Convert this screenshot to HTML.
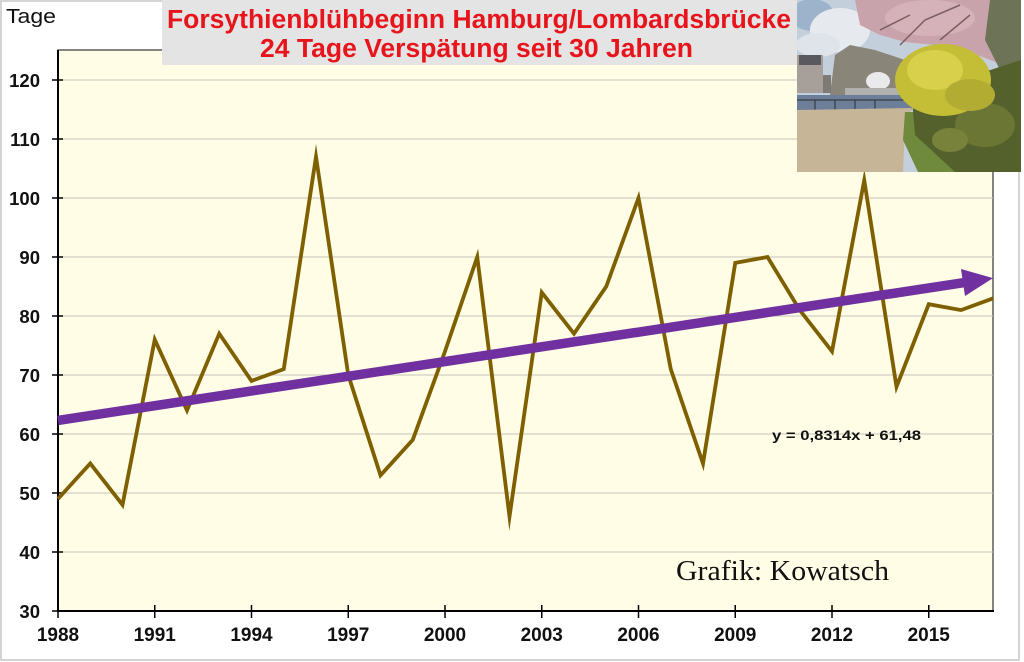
<!DOCTYPE html>
<html>
<head>
<meta charset="utf-8">
<style>
html,body{margin:0;padding:0;background:#fff;}
svg{display:block;}
</style>
</head>
<body>
<svg width="1024" height="662" viewBox="0 0 1024 662" xmlns="http://www.w3.org/2000/svg">
  <rect x="0" y="0" width="1024" height="662" fill="#ffffff"/>
  <!-- outer frame -->
  <rect x="1" y="1" width="1018" height="659" fill="none" stroke="#d4d4d4" stroke-width="2"/>

  <!-- plot area -->
  <rect x="58" y="50" width="935" height="561" fill="#fffde6" stroke="#333" stroke-width="1.2"/>

  <!-- gridlines -->
  <g stroke="#c4c4bc" stroke-width="1">
    <line x1="58" y1="80" x2="993" y2="80"/>
    <line x1="58" y1="139" x2="993" y2="139"/>
    <line x1="58" y1="198" x2="993" y2="198"/>
    <line x1="58" y1="257" x2="993" y2="257"/>
    <line x1="58" y1="316" x2="993" y2="316"/>
    <line x1="58" y1="375" x2="993" y2="375"/>
    <line x1="58" y1="434" x2="993" y2="434"/>
    <line x1="58" y1="493" x2="993" y2="493"/>
    <line x1="58" y1="552" x2="993" y2="552"/>
  </g>

  <!-- axes -->
  <line x1="58" y1="50" x2="58" y2="612" stroke="#000" stroke-width="2"/>
  <line x1="57" y1="611" x2="994" y2="611" stroke="#000" stroke-width="2"/>

  <!-- y ticks -->
  <g stroke="#000" stroke-width="1.5">
    <line x1="52" y1="80" x2="63" y2="80"/>
    <line x1="52" y1="139" x2="63" y2="139"/>
    <line x1="52" y1="198" x2="63" y2="198"/>
    <line x1="52" y1="257" x2="63" y2="257"/>
    <line x1="52" y1="316" x2="63" y2="316"/>
    <line x1="52" y1="375" x2="63" y2="375"/>
    <line x1="52" y1="434" x2="63" y2="434"/>
    <line x1="52" y1="493" x2="63" y2="493"/>
    <line x1="52" y1="552" x2="63" y2="552"/>
    <line x1="52" y1="611" x2="63" y2="611"/>
  </g>
  <!-- x ticks -->
  <g stroke="#000" stroke-width="1.5">
    <line x1="58" y1="605" x2="58" y2="618"/>
    <line x1="154.75" y1="605" x2="154.75" y2="618"/>
    <line x1="251.5" y1="605" x2="251.5" y2="618"/>
    <line x1="348.25" y1="605" x2="348.25" y2="618"/>
    <line x1="445" y1="605" x2="445" y2="618"/>
    <line x1="541.75" y1="605" x2="541.75" y2="618"/>
    <line x1="638.5" y1="605" x2="638.5" y2="618"/>
    <line x1="735.25" y1="605" x2="735.25" y2="618"/>
    <line x1="832" y1="605" x2="832" y2="618"/>
    <line x1="928.75" y1="605" x2="928.75" y2="618"/>
  </g>

  <!-- y labels -->
  <g font-family="Liberation Sans, Arial, sans-serif" font-weight="bold" font-size="18.5" fill="#111" text-anchor="end">
    <text x="40" y="87">120</text>
    <text x="40" y="146">110</text>
    <text x="40" y="205">100</text>
    <text x="40" y="264">90</text>
    <text x="40" y="323">80</text>
    <text x="40" y="382">70</text>
    <text x="40" y="441">60</text>
    <text x="40" y="500">50</text>
    <text x="40" y="559">40</text>
    <text x="40" y="618">30</text>
  </g>
  <!-- x labels -->
  <g font-family="Liberation Sans, Arial, sans-serif" font-weight="bold" font-size="19" fill="#111" text-anchor="middle">
    <text x="58" y="641">1988</text>
    <text x="154.75" y="641">1991</text>
    <text x="251.5" y="641">1994</text>
    <text x="348.25" y="641">1997</text>
    <text x="445" y="641">2000</text>
    <text x="541.75" y="641">2003</text>
    <text x="638.5" y="641">2006</text>
    <text x="735.25" y="641">2009</text>
    <text x="832" y="641">2012</text>
    <text x="928.75" y="641">2015</text>
  </g>

  <!-- Tage -->
  <text x="6" y="23" font-family="Liberation Sans, Arial, sans-serif" font-size="20" fill="#111" textLength="50" lengthAdjust="spacingAndGlyphs">Tage</text>

  <!-- data series -->
  <polyline fill="none" stroke="#7f6000" stroke-width="3.8" stroke-linejoin="miter" stroke-miterlimit="10"
    points="58,498.9 90.25,463.5 122.5,504.8 154.75,339.6 187,410.4 219.25,333.7 251.5,380.9 283.75,369.1 316,156.7 348.25,375 380.5,475.3 412.75,439.9 445,351.4 477.25,257 509.5,516.6 541.75,292.4 574,333.7 606.25,286.5 638.5,198 670.75,369.1 703,463.5 735.25,262.9 767.5,257 799.75,310.1 832,351.4 864.25,180.3 896.5,386.8 928.75,304.2 961,310.1 993.25,298.3"/>

  <!-- trend arrow -->
  <line x1="58" y1="420.4" x2="966" y2="282.3" stroke="#7030a0" stroke-width="9.5"/>
  <polygon points="993,278.1 961,269 965,296" fill="#7030a0"/>

  <!-- equation -->
  <text x="772" y="440" font-family="Liberation Sans, Arial, sans-serif" font-weight="bold" font-size="14" fill="#111" textLength="149" lengthAdjust="spacingAndGlyphs">y = 0,8314x + 61,48</text>

  <!-- Grafik -->
  <text x="676" y="580" font-family="Liberation Serif, Times New Roman, serif" font-size="29" fill="#111" textLength="213" lengthAdjust="spacingAndGlyphs">Grafik: Kowatsch</text>

  <!-- title box -->
  <rect x="162" y="0" width="635" height="65" fill="#e4e4e4"/>
  <g font-family="Liberation Sans, Arial, sans-serif" font-weight="bold" fill="#e8141c">
    <text x="167" y="28" font-size="25.5" textLength="624" lengthAdjust="spacingAndGlyphs">Forsythienblühbeginn  Hamburg/Lombardsbrücke</text>
    <text x="260" y="57" font-size="25.5" textLength="433" lengthAdjust="spacingAndGlyphs">24 Tage Verspätung seit 30 Jahren</text>
  </g>

  <!-- photo -->
  <defs>
    <clipPath id="ph"><rect x="797" y="0" width="224" height="172"/></clipPath>
  </defs>
  <g clip-path="url(#ph)">
    <rect x="797" y="0" width="224" height="172" fill="#c4cfdc"/>
    <ellipse cx="812" cy="15" rx="22" ry="16" fill="#9db3cc"/>
    <ellipse cx="840" cy="30" rx="30" ry="22" fill="#e6eaee"/>
    <ellipse cx="818" cy="45" rx="22" ry="12" fill="#dfe4ea"/>
    <!-- background trees -->
    <path d="M830,95 L835,55 L850,45 L875,50 L905,60 L910,95 Z" fill="#8a8579"/>
    <!-- pink tree -->
    <path d="M855,0 L1021,0 L1021,55 L995,62 L965,50 L935,45 L905,42 L880,35 L860,25 Z" fill="#c8a3ab"/>
    <ellipse cx="930" cy="18" rx="45" ry="18" fill="#d5b2b9"/>
    <path d="M990,0 L1021,0 L1021,90 L1000,70 L985,40 Z" fill="#6d7357"/>
    <g stroke="#7a5f60" stroke-width="1.5" fill="none">
      <path d="M900,45 L925,20 L960,5"/>
      <path d="M940,40 L970,15"/>
      <path d="M880,30 L910,15"/>
    </g>
    <!-- buildings -->
    <rect x="797" y="55" width="26" height="38" fill="#a7a09a"/>
    <rect x="799" y="55" width="22" height="10" fill="#5a5a5e"/>
    <rect x="823" y="75" width="8" height="18" fill="#7d7a76"/>
    <ellipse cx="878" cy="81" rx="12" ry="9" fill="#eaeaec"/>
    <rect x="845" y="88" width="60" height="8" fill="#b0b0ae"/>
    <!-- water -->
    <rect x="797" y="95" width="115" height="15" fill="#6c7e98"/>
    <g stroke="#2d2d30" stroke-width="1">
      <line x1="797" y1="100" x2="910" y2="100"/>
      <line x1="815" y1="100" x2="815" y2="112"/>
      <line x1="835" y1="100" x2="835" y2="110"/>
      <line x1="855" y1="100" x2="855" y2="109"/>
      <line x1="875" y1="100" x2="875" y2="109"/>
    </g>
    <!-- path -->
    <polygon points="797,110 912,108 905,125 903,172 797,172" fill="#c6b597"/>
    <!-- grass -->
    <polygon points="905,112 918,112 950,160 960,172 918,172 903,140" fill="#6f8a3c"/>
    <!-- hedge -->
    <polygon points="912,100 960,80 1021,60 1021,172 955,172 915,135" fill="#55612d"/>
    <ellipse cx="985" cy="125" rx="30" ry="22" fill="#6b7534"/>
    <ellipse cx="950" cy="140" rx="18" ry="12" fill="#78823a"/>
    <!-- yellow forsythia bush -->
    <ellipse cx="943" cy="80" rx="48" ry="36" fill="#c4bd36"/>
    <ellipse cx="935" cy="70" rx="28" ry="20" fill="#d8d04a"/>
    <ellipse cx="970" cy="95" rx="25" ry="16" fill="#b2ad32"/>
  </g>
</svg>
</body>
</html>
